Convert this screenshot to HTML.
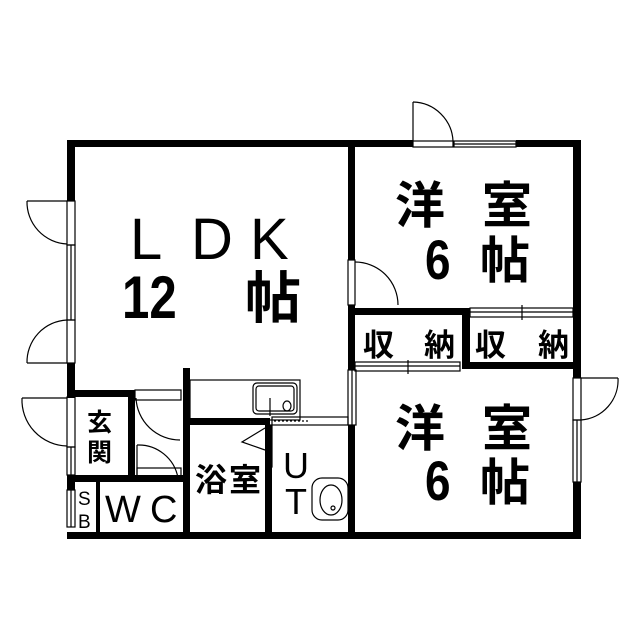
<!DOCTYPE html>
<html><head><meta charset="utf-8"><style>html,body{margin:0;padding:0;background:#fff}svg{display:block}</style></head>
<body>
<svg width="639" height="640" viewBox="0 0 639 640" xmlns="http://www.w3.org/2000/svg" font-family="Liberation Sans, Noto Sans CJK JP, sans-serif">
<rect width="639" height="640" fill="#fff"/>
<g fill="#000">
<rect x="67" y="140" width="346" height="7"/>
<rect x="516" y="140" width="65" height="7"/>
<rect x="67" y="140" width="8" height="61"/>
<rect x="67" y="363" width="8" height="35"/>
<rect x="573" y="140" width="8" height="238"/>
<rect x="573" y="482" width="8" height="57"/>
<rect x="67" y="532" width="514" height="7"/>
<rect x="67" y="475" width="8" height="15"/>
<rect x="348" y="140" width="7" height="120"/>
<rect x="348" y="305" width="7" height="65"/>
<rect x="348" y="308" width="122" height="7"/>
<rect x="462" y="308" width="8" height="60"/>
<rect x="462" y="362" width="119" height="7"/>
<rect x="67" y="390" width="65" height="7"/>
<rect x="128" y="390" width="7" height="92"/>
<rect x="67" y="475" width="120" height="7"/>
<rect x="96" y="482" width="4" height="52"/>
<rect x="183" y="368" width="7" height="171"/>
<rect x="190" y="418" width="80" height="7"/>
<rect x="265" y="425" width="7" height="110"/>
<rect x="348" y="425" width="7" height="110"/>
</g>
<g fill="none" stroke="#000" stroke-width="1.2">
<rect x="413" y="141" width="40" height="6"/>
<rect x="454" y="141" width="62" height="6"/>
<line x1="454" y1="144" x2="516" y2="144"/>
<line x1="413" y1="141" x2="413" y2="102"/>
<path d="M413 102 A41 41 0 0 1 453 141"/>
<rect x="67" y="201" width="8" height="44"/>
<line x1="27" y1="201" x2="67" y2="201"/>
<path d="M27 201 A42 42 0 0 0 67 244"/>
<rect x="67" y="245" width="8" height="75"/>
<line x1="71" y1="245" x2="71" y2="320"/>
<rect x="67" y="320" width="8" height="43"/>
<line x1="27" y1="363" x2="67" y2="363"/>
<path d="M27 363 A42 42 0 0 1 67 320"/>
<rect x="67" y="397" width="8" height="50"/>
<line x1="22" y1="398" x2="67" y2="398"/>
<path d="M22 398 A46 46 0 0 0 67 446"/>
<rect x="67" y="447" width="8" height="28"/>
<line x1="71" y1="447" x2="71" y2="475"/>
<rect x="67" y="490" width="8" height="37"/>
<line x1="71" y1="490" x2="71" y2="527"/>
<rect x="348" y="260" width="7" height="45"/>
<path d="M355 262 A43 43 0 0 1 398 305"/>
<rect x="470" y="308" width="103" height="9"/>
<line x1="470" y1="312" x2="573" y2="312"/>
<line x1="522" y1="305" x2="522" y2="320"/>
<rect x="355" y="362" width="105" height="9"/>
<line x1="355" y1="366" x2="460" y2="366"/>
<line x1="408" y1="360" x2="408" y2="374"/>
<rect x="348" y="370" width="8" height="55"/>
<line x1="352" y1="370" x2="352" y2="425"/>
<rect x="573" y="378" width="8" height="42"/>
<line x1="581" y1="378" x2="618" y2="378"/>
<path d="M618 378 A40 40 0 0 1 581 420"/>
<rect x="573" y="420" width="8" height="62"/>
<line x1="577" y1="420" x2="577" y2="482"/>
<rect x="135" y="390" width="46" height="10"/>
<path d="M136 398 A44 44 0 0 0 180 440"/>
<line x1="137" y1="445" x2="137" y2="478"/>
<path d="M137 445 A40 40 0 0 1 178 478"/>
<rect x="137" y="468" width="44" height="8"/>
<rect x="190" y="380" width="110" height="40"/>
<rect x="253" y="383" width="44" height="31" rx="4"/>
<rect x="256" y="386" width="38" height="25" rx="3"/>
<line x1="270" y1="398" x2="270" y2="416"/>
<ellipse cx="287" cy="406" rx="4" ry="5"/>
<rect x="272" y="417" width="76" height="8"/>
<line x1="274" y1="421" x2="310" y2="421" stroke-dasharray="2 2"/>
<rect x="266" y="425" width="6" height="42"/>
<path d="M265 428 L242 442 L265 450"/>
<rect x="312" y="478" width="36" height="42" rx="10"/>
<ellipse cx="331" cy="500" rx="11" ry="15"/>
<circle cx="333" cy="508" r="2"/>
</g>
<g fill="#000">
<text x="130" y="259" font-size="58">L</text>
<text x="191" y="259" font-size="58">D</text>
<text x="250" y="259" font-size="58">K</text>
<text transform="translate(122,318) scale(0.82,1)" font-size="60" font-weight="bold">12</text>
<text x="245" y="318" font-size="56" font-weight="bold">帖</text>
<text x="395" y="223" font-size="50" font-weight="bold">洋</text>
<text x="482" y="223" font-size="50" font-weight="bold">室</text>
<text transform="translate(425,279) scale(0.82,1)" font-size="56" font-weight="bold">6</text>
<text x="480" y="278" font-size="50" font-weight="bold">帖</text>
<text x="363" y="356" font-size="31" font-weight="bold">収</text>
<text x="424" y="356" font-size="31" font-weight="bold">納</text>
<text x="475" y="356" font-size="31" font-weight="bold">収</text>
<text x="538" y="356" font-size="31" font-weight="bold">納</text>
<text x="395" y="446" font-size="50" font-weight="bold">洋</text>
<text x="482" y="446" font-size="50" font-weight="bold">室</text>
<text transform="translate(425,500) scale(0.82,1)" font-size="56" font-weight="bold">6</text>
<text x="480" y="500" font-size="50" font-weight="bold">帖</text>
<text x="87" y="431" font-size="25" font-weight="bold">玄</text>
<text x="87" y="461" font-size="25" font-weight="bold">関</text>
<text x="195" y="491" font-size="32" font-weight="bold" textLength="66">浴室</text>
<text x="283" y="478" font-size="36">U</text>
<text x="285" y="514" font-size="36">T</text>
<text x="78" y="505" font-size="19">S</text>
<text x="78" y="528" font-size="19">B</text>
<text x="105" y="522" font-size="38">W</text>
<text x="150" y="522" font-size="38">C</text>
</g>
</svg>
</body></html>
